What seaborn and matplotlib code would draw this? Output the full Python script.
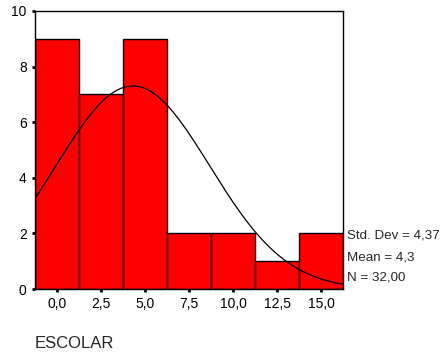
#!/usr/bin/env python3
"""SPSS-style histogram of ESCOLAR with a fitted normal curve."""

import numpy as np
import pandas as pd
import seaborn as sns
from matplotlib import pyplot as plt

# Histogram values
bin_centers = [0.0, 2.5, 5.0, 7.5, 10.0, 12.5, 15.0]
counts = [9, 7, 9, 2, 2, 1, 2]
bin_width = 2.5
y_ticks = [0, 2, 4, 6, 8, 10]
x_tick_labels = ["0,0", "2,5", "5,0", "7,5", "10,0", "12,5", "15,0"]
std_dev = 4.37
mean = 4.3
n_total = 32

sns.set_theme(style="white")
plt.rcParams["font.family"] = ["Liberation Sans", "DejaVu Sans"]

fig = plt.figure(figsize=(4.46, 3.53), dpi=100)
ax = fig.add_axes([0.0785, 0.181, 0.691, 0.788])

df = pd.DataFrame({"x": bin_centers, "n": counts})
lo = bin_centers[0] - bin_width / 2
hi = bin_centers[-1] + bin_width / 2
sns.histplot(data=df, x="x", weights="n", binwidth=bin_width, binrange=(lo, hi),
             ax=ax, color="#ff0000", alpha=1, edgecolor="black", linewidth=1)

# normal curve from the reported mean and std dev
xs = np.linspace(lo, hi, 200)
ys = n_total * bin_width * np.exp(-0.5 * ((xs - mean) / std_dev) ** 2) / (std_dev * np.sqrt(2 * np.pi))
sns.lineplot(x=xs, y=ys, ax=ax, color="black", linewidth=0.9)

ax.set_xlim(lo, hi)
ax.set_ylim(0, 10)
ax.set_xticks(bin_centers)
ax.set_xticklabels(x_tick_labels)
ax.set_yticks(y_ticks)
ax.set_xlabel("")
ax.set_ylabel("")
ax.tick_params(axis="both", which="major", direction="out", length=2.5, width=2,
               color="black", labelsize=10, labelcolor="black", pad=3.5,
               bottom=True, left=True)
for s in ax.spines.values():
    s.set_color("black")
    s.set_linewidth(1)

# stats block at right
stats = ["Std. Dev = 4,37", "Mean = 4,3", "N = 32,00"]
for i, t in enumerate(stats):
    fig.text(347 / 446, 1 - (236 + i * 21) / 353, t, fontsize=9.6, va="center", ha="left")

fig.text(35 / 446, 1 - 343 / 353, "ESCOLAR", fontsize=12, va="center", ha="left")

plt.savefig("out.png", dpi=100)
plt.close()
